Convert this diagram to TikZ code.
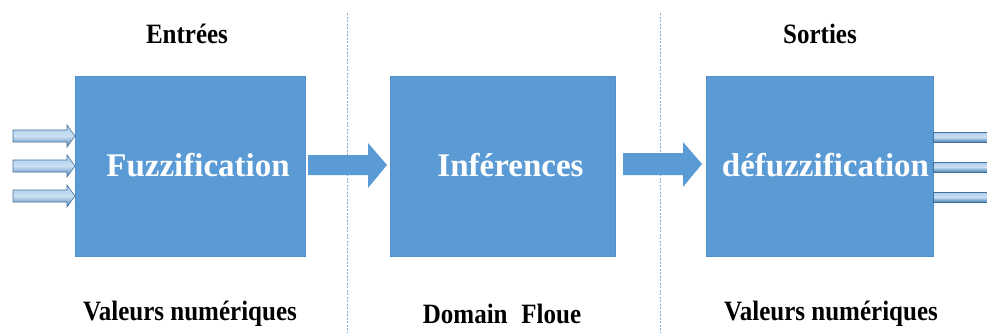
\documentclass[tikz,border=0pt]{standalone}
\usepackage{fontspec}
\setmainfont{Liberation Serif}
\usetikzlibrary{calc}
\definecolor{blockblue}{HTML}{5B9BD5}
\definecolor{blockedge}{HTML}{5590CC}
\definecolor{lightblue}{HTML}{A9CBEB}
\definecolor{darkedge}{HTML}{41719C}
\definecolor{sepblue}{HTML}{7FAAD6}
\newcommand{\tallcaption}[1]{\scalebox{1}[1.12]{#1}}
\tikzset{
  block/.style={rectangle, fill=blockblue, draw=blockedge, line width=0.6pt,
    minimum height=180pt, inner sep=0pt},
  blocktext/.style={inner sep=0pt, text=white,
    font=\fontsize{33}{36}\selectfont\bfseries},
  caption/.style={inner sep=0pt, text=black, font=\fontsize{25}{28}\selectfont\bfseries},
  bigarrow/.style={fill=blockblue},
  smallarrow/.style={top color=lightblue, bottom color=blockblue!85!black, middle color=lightblue!60!white,
    draw=darkedge, line width=0.6pt},
  separator/.style={draw=sepblue, line width=0.7pt, dash pattern=on 2pt off 1.5pt}
}
\begin{document}
\begin{tikzpicture}[x=1pt, y=-1pt]
  \useasboundingbox (0,0) rectangle (987,333);

  % phase separators
  \draw[separator] (347,13) -- (347,333);
  \draw[separator] (660,13) -- (660,333);

  % processing blocks
  \node[block, minimum width=230pt] (fuz) at (190,166) {};
  \node[block, minimum width=225pt] (inf) at (502.5,166) {};
  \node[block, minimum width=227pt] (defuz) at (819.5,166) {};
  \node[blocktext] (fuztext) at ($(fuz)+(8,-1)$) {Fuzzification};
  \node[blocktext] (inftext) at ($(inf)+(8,-1)$) {Inférences};
  \node[blocktext] (defuztext) at ($(defuz)+(6,-1)$) {défuzzification};

  % column captions
  \node[caption] (inlabel) at (187,34) {\tallcaption{Entrées}};
  \node[caption] (outlabel) at (820,34) {\tallcaption{Sorties}};
  \node[caption] (invalues) at (190,314) {\tallcaption{Valeurs numériques}};
  \node[caption] (domain) at (502,314) {\tallcaption{Domain\hspace{0.55em}Floue}};
  \node[caption] (outvalues) at (831,314) {\tallcaption{Valeurs numériques}};

  % block arrows between stages
  \fill[bigarrow] (308,155) -- (368,155) -- (368,143) -- (387,165) -- (368,188)
    -- (368,175) -- (308,175) -- cycle;
  \fill[bigarrow] (623,153) -- (683,153) -- (683,142) -- (702,164) -- (683,187)
    -- (683,175) -- (623,175) -- cycle;

  % input arrows
  \foreach \yc in {136,166,196} {
    \draw[smallarrow] (13,\yc-6) -- (67,\yc-6) -- (67,\yc-11) -- (75,\yc)
      -- (67,\yc+11) -- (67,\yc+6) -- (13,\yc+6) -- cycle;
  }
  % output arrows (shafts leaving the last block)
  \foreach \yc in {137,167,197} {
    \draw[smallarrow] (990,\yc-5) -- (933,\yc-5) -- (933,\yc+5) -- (990,\yc+5);
  }
\end{tikzpicture}
\end{document}
